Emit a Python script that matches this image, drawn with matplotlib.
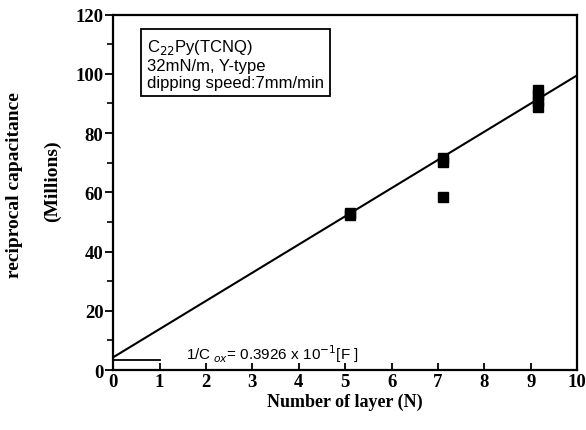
import matplotlib
matplotlib.use("Agg")
import matplotlib.pyplot as plt
from matplotlib.ticker import MultipleLocator

# data
layers = [5.1, 5.1, 7.1, 7.1, 7.1, 9.15, 9.15, 9.15, 9.15]
recip_cap = [52.2, 53.0, 70.3, 71.5, 58.5, 88.8, 90.8, 92.8, 94.5]
fit_x = [0, 10]
fit_y = [4.3, 99.5]
cox_x = [0, 1]
cox_y = [3.4, 3.4]

x_ticks = list(range(0, 11))
y_ticks = [0, 20, 40, 60, 80, 100, 120]

serif = ['Liberation Serif', 'DejaVu Serif']
sans = ['Liberation Sans', 'DejaVu Sans']

fig = plt.figure(figsize=(5.86, 4.31), dpi=100)
ax = fig.add_axes([0.193, 0.139, 0.792, 0.825])

ax.plot(fit_x, fit_y, color='black', lw=1.5, solid_capstyle='butt')
ax.plot(cox_x, cox_y, color='black', lw=1.3)
ax.plot(layers, recip_cap, linestyle='none', marker='s', ms=7, color='black')

ax.set_xlim(0, 10)
ax.set_ylim(0, 120)
ax.set_xticks(x_ticks)
ax.set_yticks(y_ticks)
ax.yaxis.set_minor_locator(MultipleLocator(10))
ax.tick_params(axis='x', direction='in', length=5, width=1.3, pad=2)
ax.tick_params(axis='y', which='major', direction='out', length=6, width=1.3, pad=1)
ax.tick_params(axis='y', which='minor', direction='out', length=4, width=1.2)
for lab in ax.get_xticklabels() + ax.get_yticklabels():
    lab.set_fontfamily(serif)
    lab.set_fontweight('bold')
    lab.set_fontsize(13.5)
for s in ax.spines.values():
    s.set_linewidth(1.6)

ax.set_xlabel('Number of layer (N)', family=serif, fontweight='bold', fontsize=13, labelpad=2)
fig.text(0.025, 0.571, 'reciprocal capacitance', rotation=90, family=serif,
         fontweight='bold', fontsize=14, ha='center', va='center')
fig.text(0.09, 0.58, '(Millions)', rotation=90, family=serif,
         fontweight='bold', fontsize=14, ha='center', va='center')

ax.text(0.073, 0.938, 'C$_{22}$Py(TCNQ)\n32mN/m, Y-type\ndipping speed:7mm/min',
        transform=ax.transAxes, family=sans, fontsize=12, va='top', ha='left',
        linespacing=1.2,
        bbox=dict(boxstyle='square,pad=0.35', facecolor='white', edgecolor='black', lw=1.3))

ax.text(1.58, 5.7, '1/C$_{\\ ox}$= 0.3926 x 10$^{-1}$[F ]', family=sans, fontsize=11,
        ha='left', va='center')

fig.savefig('out.png', dpi=100)
